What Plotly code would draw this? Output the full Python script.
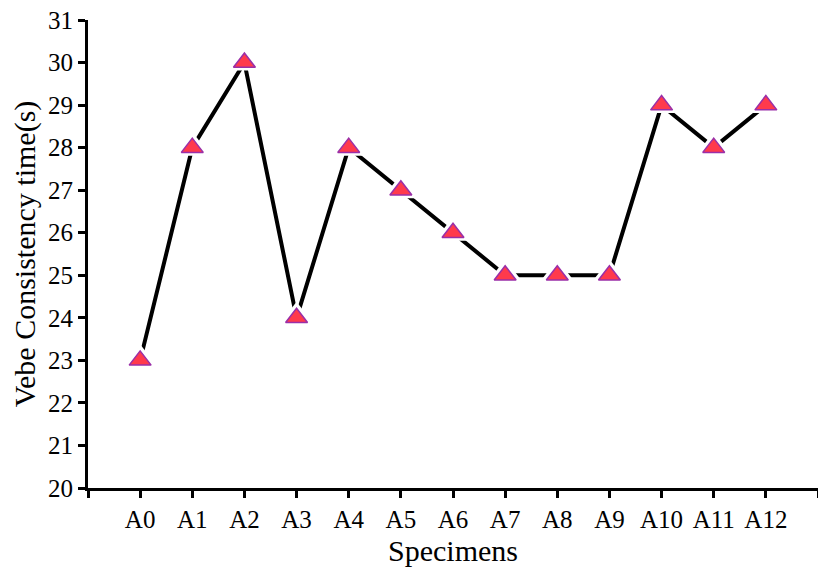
import plotly.graph_objects as go

categories = ["A0", "A1", "A2", "A3", "A4", "A5", "A6", "A7", "A8", "A9", "A10", "A11", "A12"]
vebe_time = [23, 28, 30, 24, 28, 27, 26, 25, 25, 25, 29, 28, 29]
y_ticks = list(range(20, 32))

x_idx = list(range(len(categories)))
font_family = "Liberation Serif, Times New Roman, serif"

fig = go.Figure()
fig.add_trace(go.Scatter(x=x_idx, y=vebe_time, mode="lines",
                         line=dict(color="black", width=4), hoverinfo="skip", showlegend=False))
fig.add_trace(go.Scatter(x=x_idx, y=vebe_time, mode="markers",
                         marker=dict(symbol="triangle-up", size=32, color="white",
                                     line=dict(width=0)), hoverinfo="skip", showlegend=False))
fig.add_trace(go.Scatter(x=x_idx, y=vebe_time, mode="markers",
                         marker=dict(symbol="triangle-up", size=19, color="#ff3a4c",
                                     line=dict(color="#9a2fa8", width=1.5)), showlegend=False))

tickvals = list(range(-1, len(categories) + 1))
ticktext = [""] + categories + [""]

fig.update_layout(
    width=818, height=571,
    margin=dict(l=80, r=8, t=12, b=91),
    paper_bgcolor="white", plot_bgcolor="white",
    font=dict(family=font_family, color="black", size=25),
    xaxis=dict(range=[-1, len(categories)], tickmode="array", tickvals=tickvals, ticktext=ticktext,
               showline=True, linecolor="black", linewidth=3, ticks="outside", ticklen=7,
               tickwidth=3, tickcolor="black", showgrid=False, zeroline=False, automargin=False,
               ticklabeloverflow="allow",
               title=dict(text="Specimens", font=dict(size=30), standoff=8),
               tickfont=dict(size=25)),
    yaxis=dict(range=[20, 31], tickmode="array", tickvals=y_ticks,
               showline=True, linecolor="black", linewidth=3, ticks="outside", ticklen=7,
               tickwidth=3, tickcolor="black", showgrid=False, zeroline=False, automargin=False,
               ticklabeloverflow="allow",
               title=dict(text="Vebe Consistency time(s)", font=dict(size=30), standoff=10),
               tickfont=dict(size=25)),
)

fig.write_html("out.html")
